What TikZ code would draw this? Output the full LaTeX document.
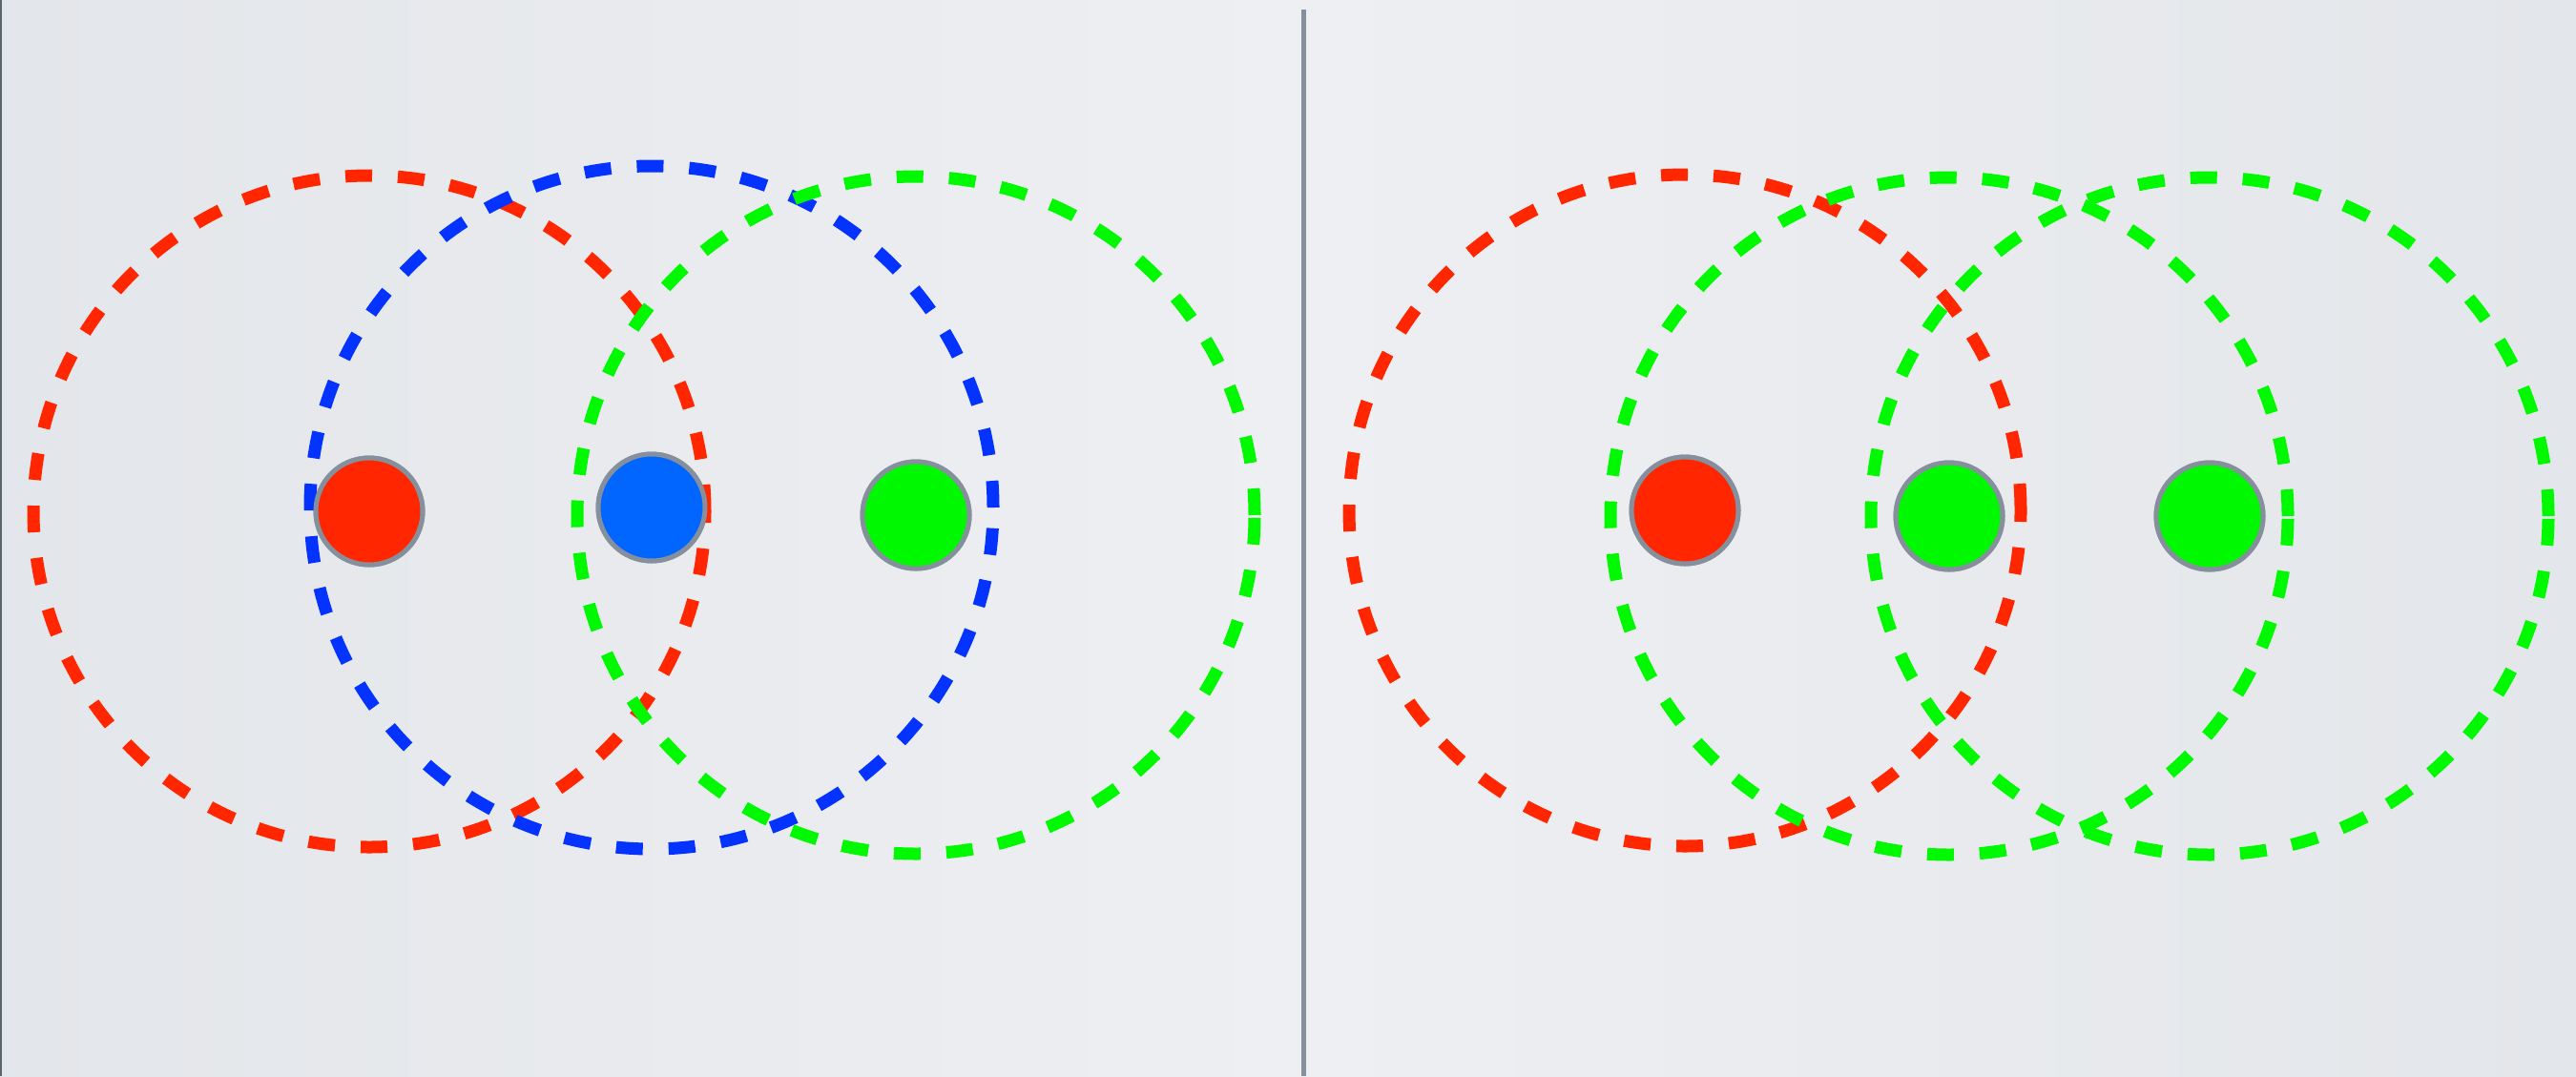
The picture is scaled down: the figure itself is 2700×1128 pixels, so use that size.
\documentclass[tikz,border=0pt]{standalone}
\begin{document}
\begin{tikzpicture}[x=1pt,y=-1pt,
  dot/.style={circle,draw=edgegray,line width=5pt,minimum size=112pt,inner sep=0pt},
  ring/.style={line width=13pt,dash pattern=on 28pt off 27pt},
  divider/.style={draw=edgegray,line width=5pt}]
\definecolor{edgegray}{HTML}{85909C}
\definecolor{dotred}{HTML}{FF2600}
\definecolor{dotblue}{HTML}{0066FF}
\definecolor{dotgreen}{HTML}{00F900}
\definecolor{ringred}{HTML}{FF2600}
\definecolor{ringblue}{HTML}{0433FF}
\definecolor{ringgreen}{HTML}{00F900}
\definecolor{bgA}{HTML}{E3E6EA}
\definecolor{bgB}{HTML}{EEEFF2}
\useasboundingbox (0,0) rectangle (2700,1128);
\shade[left color=bgA,right color=bgB] (0,0) rectangle (1366,1128);
\shade[left color=bgB,right color=bgA] (1366,0) rectangle (2700,1128);
\draw[edgegray!70!black,line width=2pt] (1,0) -- (1,1128);
\coordinate (dtop) at (1366,10);
\coordinate (dbot) at (1366,1128);
\draw[divider] (dtop) -- (dbot);
% left group
\node[dot,fill=dotred] (lr) at (387,536) {};
\node[dot,fill=dotblue] (lb) at (683,532) {};
\node[dot,fill=dotgreen] (lg) at (960,540) {};
% right group
\node[dot,fill=dotred] (rr) at (1766,535) {};
\node[dot,fill=dotgreen] (rg1) at (2043,541) {};
\node[dot,fill=dotgreen] (rg2) at (2316,541) {};
% rings
\draw[ring,ringred] (lr.center) circle (352pt);
\draw[ring,ringblue] (lb.center) circle (358pt);
\draw[ring,ringgreen] (lg.center) circle (355pt);
\draw[ring,ringred] (rr.center) circle (352pt);
\draw[ring,ringgreen] (rg1.center) circle (355pt);
\draw[ring,ringgreen] (rg2.center) circle (355pt);
% redraw dots on top
\node[dot,fill=dotred] at (lr) {};
\node[dot,fill=dotblue] at (lb) {};
\node[dot,fill=dotgreen] at (lg) {};
\node[dot,fill=dotred] at (rr) {};
\node[dot,fill=dotgreen] at (rg1) {};
\node[dot,fill=dotgreen] at (rg2) {};
\end{tikzpicture}
\end{document}
